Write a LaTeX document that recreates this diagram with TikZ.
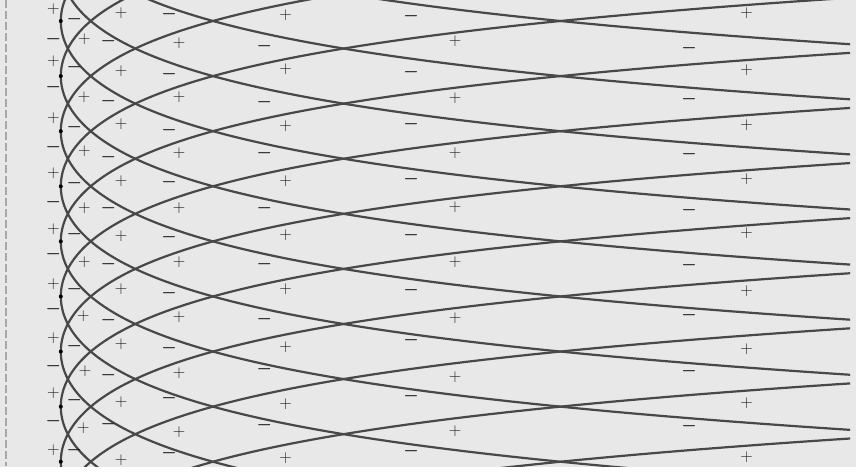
\documentclass[tikz,border=0pt]{standalone}
\definecolor{bgcol}{HTML}{E8E8E8}
\definecolor{curvecol}{HTML}{484848}
\definecolor{dashcol}{HTML}{A8A8A8}
\definecolor{labcol}{HTML}{1E1E1E}
\tikzset{
  curvestyle/.style={curvecol, line width=2.2pt},
  signlab/.style={font=\fontsize{17}{20}\selectfont, text=labcol, inner sep=0pt},
  pluslab/.style={signlab},
  minuslab/.style={signlab, font=\fontsize{17}{20}\selectfont\boldmath},
  borderline/.style={dashcol, line width=2pt, dash pattern=on 8pt off 3pt}
}
\begin{document}
\begin{tikzpicture}[x=1pt,y=-1pt]
\useasboundingbox (0,0) rectangle (856,474);
\fill[bgcol] (0,0) rectangle (856,467);
\draw[borderline] (6,0) -- (6,466);
\begin{scope}
  \clip (0,-5) rectangle (850,466);
  \foreach \k in {-4,...,12} {
    \pgfmathsetmacro\yi{21+55.09*\k}
    \draw[curvestyle] plot[domain=-200:200, samples=161, variable=\t]
      ({60.8+55.09*(cosh(\t/55.09)-1)},{\yi+\t});
  }
\end{scope}
\foreach \k in {0,...,8} {
  \fill[black] (60.8,{21+55.09*\k}) circle (2pt);
}
% column A
\foreach \yy [count=\i] in {9.3,61,118,172.7,229.3,283.7,337.7,393.3,450}
  \node[pluslab] (ap\i) at (53.3,\yy) {$+$};
\foreach \yy [count=\i] in {39.3,86.7,146.7,202.3,254.3,309.3,365.7,420.7}
  \node[minuslab] (am\i) at (53.3,\yy) {$-$};
% column B
\foreach \xx/\yy [count=\i] in {84.3/39,84/96.7,84.3/151,84.3/207.7,84.3/262.3,83.3/316,85/370.7,83.3/428.3}
  \node[pluslab] (bp\i) at (\xx,\yy) {$+$};
\foreach \yy [count=\i] in {19.3,66.7,127.3,182.7,234.3,289.3,345.7,400,450}
  \node[minuslab] (bm\i) at (74.3,\yy) {$-$};
% column C
\foreach \yy [count=\i] in {41,100.7,156.7,208.3,264,320,375,424}
  \node[minuslab] (c\i) at (108.3,\yy) {$-$};
% column D
\foreach \yy [count=\i] in {13.3,70.7,124.3,180.7,235.7,289.3,344.3,401.7,460}
  \node[pluslab] (d\i) at (121,\yy) {$+$};
% column E
\foreach \yy [count=\i] in {14,74,130,181.7,237.3,292.7,347.7,397.7,453.3}
  \node[minuslab] (e\i) at (169,\yy) {$-$};
% column F
\foreach \yy [count=\i] in {42.7,96.7,152.7,207.7,261.7,316.7,373.3,432.3}
  \node[pluslab] (f\i) at (179,\yy) {$+$};
% column G
\foreach \yy [count=\i] in {46,101.7,153.3,208.3,264.3,319.3,369.3,425}
  \node[minuslab] (g\i) at (264.3,\yy) {$-$};
% column H
\foreach \yy [count=\i] in {15,69.3,126,180.7,235,289.3,346.7,404,458.3}
  \node[pluslab] (h\i) at (285.7,\yy) {$+$};
% column I
\foreach \yy [count=\i] in {16,72.3,124,179.3,235,290,340,396,451}
  \node[minuslab] (i\i) at (411,\yy) {$-$};
% column J
\foreach \yy [count=\i] in {41,97.7,152.7,206.7,261.7,318.3,376.7,431}
  \node[pluslab] (j\i) at (455,\yy) {$+$};
% column K
\foreach \yy [count=\i] in {47.7,98.7,154,210,265,315,371,426}
  \node[minuslab] (k\i) at (689,\yy) {$-$};
% column L
\foreach \yy [count=\i] in {13.3,70,125,179.3,233.3,291,348.7,403.3,456.7}
  \node[pluslab] (l\i) at (746.7,\yy) {$+$};
\end{tikzpicture}
\end{document}
